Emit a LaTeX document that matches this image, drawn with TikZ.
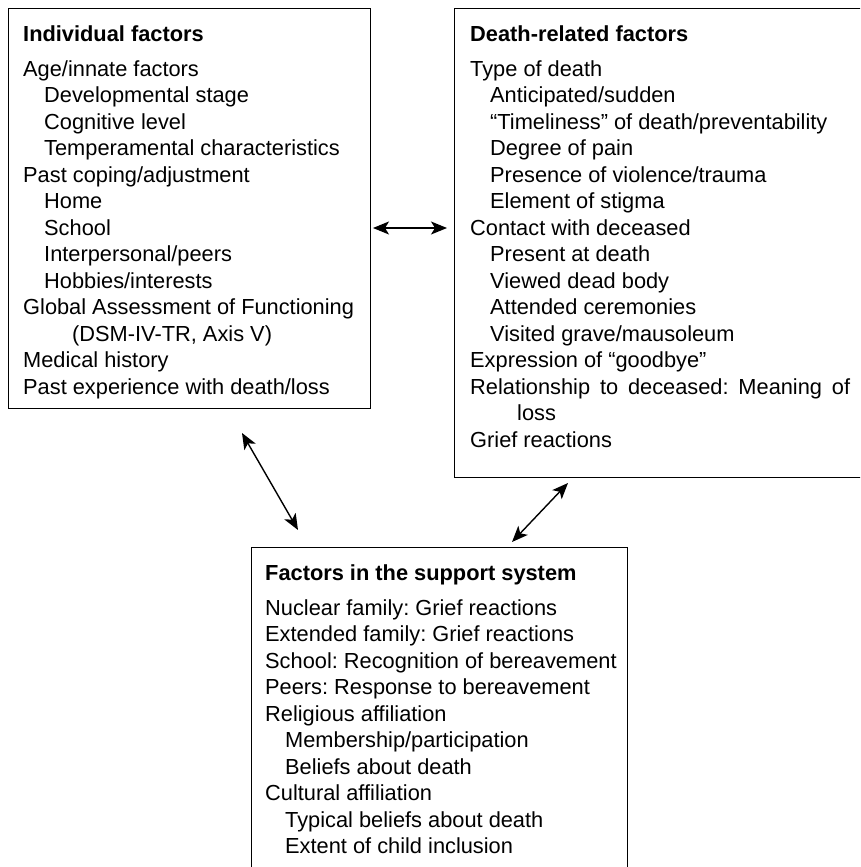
\documentclass[tikz,border=0pt]{standalone}
\usepackage{fontspec}
\setmainfont{Liberation Sans}
\usetikzlibrary{arrows.meta}
\frenchspacing
\begin{document}
\begin{tikzpicture}[x=1pt,y=-1pt,
  frame/.style={draw, line width=1.4pt, inner sep=0pt, anchor=north west},
  txt/.style={anchor=base west, inner sep=0pt, font=\fontsize{21.8}{26.5}\selectfont},
  head/.style={txt, font=\fontsize{21.8}{26.5}\selectfont\bfseries},
  link/.style={line width=1.4pt, {Stealth[length=16pt,width=13pt,inset=4pt]}-{Stealth[length=16pt,width=13pt,inset=4pt]}}]
\useasboundingbox (0,0) rectangle (860,867);
\clip (0,0) rectangle (860,867);

% the three frames
\node[frame, minimum width=362pt, minimum height=400pt] (indiv) at (8,8) {};
\node[frame, minimum width=420pt, minimum height=469pt] (death) at (454,8) {};
\node[frame, minimum width=376pt, minimum height=340pt] (support) at (251,547) {};

% individual factors
\node[head] (i0) at (23,42) {Individual factors};
\node[txt] (i1) at (23,76) {Age/innate factors};
\node[txt] (i2) at (44,102.5) {Developmental stage};
\node[txt] (i3) at (44,129) {Cognitive level};
\node[txt] (i4) at (44,155.5) {Temperamental characteristics};
\node[txt] (i5) at (23,182) {Past coping/adjustment};
\node[txt] (i6) at (44,208.5) {Home};
\node[txt] (i7) at (44,235) {School};
\node[txt] (i8) at (44,261.5) {Interpersonal/peers};
\node[txt] (i9) at (44,288) {Hobbies/interests};
\node[txt] (i10) at (23,314.5) {Global Assessment of Functioning};
\node[txt] (i11) at (72,341) {(DSM-IV-TR, Axis V)};
\node[txt] (i12) at (23,367.5) {Medical history};
\node[txt] (i13) at (23,394) {Past experience with death/loss};

% death-related factors
\node[head] (d0) at (470,42) {Death-related factors};
\node[txt] (d1) at (470,76) {Type of death};
\node[txt] (d2) at (490,102.5) {Anticipated/sudden};
\node[txt] (d3) at (490,129) {“Timeliness” of death/preventability};
\node[txt] (d4) at (490,155.5) {Degree of pain};
\node[txt] (d5) at (490,182) {Presence of violence/trauma};
\node[txt] (d6) at (490,208.5) {Element of stigma};
\node[txt] (d7) at (470,235) {Contact with deceased};
\node[txt] (d8) at (490,261.5) {Present at death};
\node[txt] (d9) at (490,288) {Viewed dead body};
\node[txt] (d10) at (490,314.5) {Attended ceremonies};
\node[txt] (d11) at (490,341) {Visited grave/mausoleum};
\node[txt] (d12) at (470,367.5) {Expression of “goodbye”};
\node[txt] (d13) at (470,394) {\makebox[380pt][s]{Relationship to deceased: Meaning of}};
\node[txt] (d14) at (517,420.5) {loss};
\node[txt] (d15) at (470,447) {Grief reactions};

% support system
\node[head] (s0) at (265,580) {Factors in the support system};
\node[txt] (s1) at (265,615) {Nuclear family: Grief reactions};
\node[txt] (s2) at (265,641.5) {Extended family: Grief reactions};
\node[txt] (s3) at (265,668) {School: Recognition of bereavement};
\node[txt] (s4) at (265,694.5) {Peers: Response to bereavement};
\node[txt] (s5) at (265,721) {Religious affiliation};
\node[txt] (s6) at (285,747.5) {Membership/participation};
\node[txt] (s7) at (285,774) {Beliefs about death};
\node[txt] (s8) at (265,800.5) {Cultural affiliation};
\node[txt] (s9) at (285,827) {Typical beliefs about death};
\node[txt] (s10) at (285,853.5) {Extent of child inclusion};

% two-way links between the groups
\coordinate (ab1) at (373,228);
\coordinate (ab2) at (447,228);
\coordinate (ac1) at (242,433);
\coordinate (ac2) at (298,530);
\coordinate (bc1) at (568,483);
\coordinate (bc2) at (512,542);
\draw[link] (ab1) -- (ab2);
\draw[link] (ac1) -- (ac2);
\draw[link] (bc1) -- (bc2);
\end{tikzpicture}
\end{document}
